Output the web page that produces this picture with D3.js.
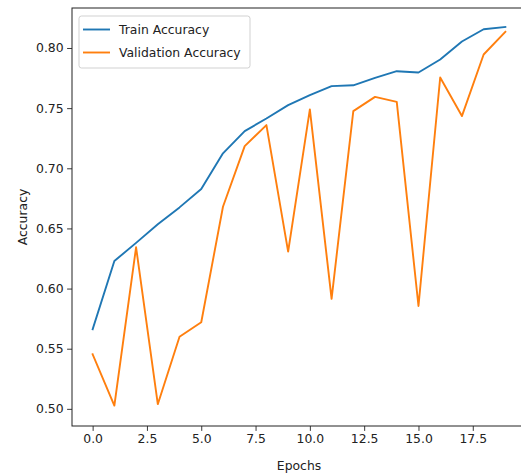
<!DOCTYPE html>
<html>
<head>
<meta charset="utf-8">
<script src="https://cdn.jsdelivr.net/npm/d3@7"></script>
<style>
  html, body { margin: 0; padding: 0; background: #fff; }
  svg { display: block; }
  text { font-family: "DejaVu Sans", sans-serif; fill: #222; }
</style>
</head>
<body>
<svg id="chart" width="521" height="475"></svg>
<script>
const epochs = d3.range(0, 20);
const trainAcc = [0.5662, 0.6229, 0.638, 0.6535, 0.6675, 0.6827, 0.7124, 0.7309, 0.7414, 0.7525,
                  0.7608, 0.7683, 0.769, 0.7752, 0.7807, 0.7796, 0.7904, 0.8054, 0.8156, 0.8175];
const valAcc = [0.5454, 0.5027, 0.6343, 0.5039, 0.560, 0.572, 0.668, 0.7184, 0.7359, 0.6307,
                0.7489, 0.5914, 0.7475, 0.7594, 0.7552, 0.5855, 0.7755, 0.7434, 0.7946, 0.8134];
const xTicks = [0, 2.5, 5, 7.5, 10, 12.5, 15, 17.5];
const yTicks = [0.50, 0.55, 0.60, 0.65, 0.70, 0.75, 0.80];
const seriesNames = ["Train Accuracy", "Validation Accuracy"];
const colors = ["#1f77b4", "#ff7f0e"];

const svg = d3.select("#chart");
const mLeft = 72, mRight = 526, mTop = 8, mBottom = 426;

const x = d3.scaleLinear().domain([-0.95, 19.95]).range([mLeft, mRight]);
const y = d3.scaleLinear().domain([0.48575, 0.83325]).range([mBottom, mTop]);

const fs = 12.4;

// lines
const line = d3.line().x((d, i) => x(epochs[i])).y(d => y(d));
[trainAcc, valAcc].forEach((s, k) => {
  svg.append("path").datum(s)
    .attr("d", line)
    .attr("fill", "none")
    .attr("stroke", colors[k])
    .attr("stroke-width", 1.9)
    .attr("stroke-linejoin", "round")
    .attr("stroke-linecap", "square");
});

// frame
svg.append("rect").attr("x", mLeft).attr("y", mTop)
  .attr("width", mRight - mLeft).attr("height", mBottom - mTop)
  .attr("fill", "none").attr("stroke", "#222").attr("stroke-width", 1);

// axes
const xAxis = d3.axisBottom(x).tickValues(xTicks).tickFormat(d3.format(".1f")).tickSize(4.9).tickPadding(3.5);
const yAxis = d3.axisLeft(y).tickValues(yTicks).tickFormat(d3.format(".2f")).tickSize(4.9).tickPadding(3.5);

const gx = svg.append("g").attr("transform", `translate(0,${mBottom})`).call(xAxis);
const gy = svg.append("g").attr("transform", `translate(${mLeft},0)`).call(yAxis);
[gx, gy].forEach(g => {
  g.select(".domain").remove();
  g.selectAll(".tick line").attr("stroke", "#222").attr("stroke-width", 0.9);
  g.selectAll(".tick text").attr("font-size", fs).attr("fill", "#222")
    .style("font-family", "'DejaVu Sans', sans-serif");
});

// axis labels
svg.append("text").attr("x", (mLeft + mRight) / 2).attr("y", 470)
  .attr("text-anchor", "middle").attr("font-size", fs).text("Epochs");
svg.append("text").attr("transform", `translate(27,${(mTop + mBottom) / 2}) rotate(-90)`)
  .attr("text-anchor", "middle").attr("font-size", fs).text("Accuracy");

// legend
const lg = svg.append("g");
lg.append("rect").attr("x", 79).attr("y", 16).attr("width", 171).attr("height", 52)
  .attr("rx", 2.5).attr("fill", "#fff").attr("fill-opacity", 0.8)
  .attr("stroke", "#ccc").attr("stroke-width", 0.9);
seriesNames.forEach((name, k) => {
  const yy = 29.5 + k * 23;
  lg.append("line").attr("x1", 83).attr("x2", 110).attr("y1", yy).attr("y2", yy)
    .attr("stroke", colors[k]).attr("stroke-width", 1.9);
  lg.append("text").attr("x", 119).attr("y", yy).attr("dy", "0.35em")
    .attr("font-size", fs).text(name);
});
</script>
</body>
</html>
